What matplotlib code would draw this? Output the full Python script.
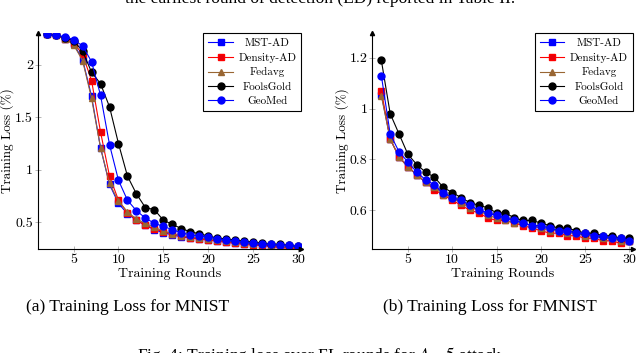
import matplotlib
matplotlib.use("Agg")
import matplotlib.pyplot as plt
from matplotlib.ticker import FixedLocator, FuncFormatter

rounds = list(range(2, 31))

# MNIST
mnist_mst = [2.29, 2.29, 2.25, 2.20, 2.05, 1.70, 1.21, 0.86, 0.68, 0.58, 0.52, 0.47, 0.43, 0.40,
             0.38, 0.36, 0.35, 0.34, 0.33, 0.32, 0.31, 0.30, 0.29, 0.29, 0.28, 0.27, 0.26, 0.26, 0.25]
mnist_density = [2.29, 2.28, 2.25, 2.21, 2.10, 1.85, 1.36, 0.94, 0.71, 0.59, 0.52, 0.47, 0.44, 0.41,
                 0.39, 0.37, 0.35, 0.34, 0.33, 0.32, 0.31, 0.30, 0.29, 0.28, 0.28, 0.27, 0.26, 0.25, 0.245]
mnist_fedavg = [2.29, 2.28, 2.25, 2.19, 2.04, 1.68, 1.21, 0.87, 0.70, 0.60, 0.53, 0.49, 0.45, 0.42,
                0.39, 0.37, 0.36, 0.35, 0.34, 0.33, 0.32, 0.31, 0.30, 0.29, 0.29, 0.28, 0.27, 0.26, 0.26]
mnist_fools = [2.29, 2.28, 2.26, 2.23, 2.13, 1.93, 1.82, 1.60, 1.25, 0.94, 0.77, 0.64, 0.62, 0.52,
               0.48, 0.44, 0.41, 0.39, 0.37, 0.35, 0.34, 0.33, 0.32, 0.31, 0.30, 0.29, 0.29, 0.28, 0.27]
mnist_geomed = [2.29, 2.28, 2.27, 2.24, 2.18, 2.03, 1.71, 1.24, 0.90, 0.71, 0.61, 0.54, 0.49, 0.46,
                0.43, 0.40, 0.38, 0.37, 0.36, 0.34, 0.33, 0.32, 0.31, 0.30, 0.29, 0.29, 0.28, 0.28, 0.27]

# FMNIST
fm_mst = [1.055, 0.88, 0.81, 0.77, 0.74, 0.71, 0.69, 0.67, 0.65, 0.63, 0.62, 0.60, 0.59, 0.58,
          0.57, 0.56, 0.55, 0.54, 0.53, 0.53, 0.52, 0.52, 0.51, 0.50, 0.50, 0.49, 0.49, 0.48, 0.48]
fm_density = [1.07, 0.88, 0.81, 0.77, 0.74, 0.71, 0.68, 0.66, 0.64, 0.62, 0.60, 0.59, 0.57, 0.56,
              0.56, 0.55, 0.54, 0.53, 0.52, 0.51, 0.51, 0.50, 0.50, 0.49, 0.49, 0.48, 0.48, 0.47, 0.48]
fm_fedavg = [1.05, 0.88, 0.81, 0.77, 0.74, 0.71, 0.69, 0.66, 0.65, 0.63, 0.61, 0.60, 0.58, 0.57,
             0.56, 0.55, 0.55, 0.54, 0.53, 0.52, 0.52, 0.51, 0.51, 0.50, 0.50, 0.49, 0.49, 0.48, 0.48]
fm_fools = [1.19, 0.98, 0.90, 0.82, 0.78, 0.75, 0.73, 0.69, 0.67, 0.65, 0.63, 0.62, 0.61, 0.59,
            0.59, 0.57, 0.56, 0.56, 0.55, 0.54, 0.53, 0.53, 0.52, 0.51, 0.51, 0.50, 0.50, 0.49, 0.49]
fm_geomed = [1.13, 0.90, 0.83, 0.79, 0.75, 0.72, 0.70, 0.67, 0.65, 0.64, 0.62, 0.60, 0.59, 0.58,
             0.57, 0.56, 0.55, 0.54, 0.54, 0.53, 0.52, 0.52, 0.51, 0.51, 0.50, 0.50, 0.49, 0.49, 0.48]

labels = ["MST-AD", "Density-AD", "Fedavg", "FoolsGold", "GeoMed"]
mnist_ticks = [0.5, 1, 1.5, 2]
fm_ticks = [0.6, 0.8, 1.0, 1.2]
x_ticks = [5, 10, 15, 20, 25, 30]

plt.rcParams['font.family'] = ['cmr10', 'DejaVu Serif']
plt.rcParams['axes.formatter.use_mathtext'] = True
plt.rcParams['mathtext.fontset'] = 'stix'

styles = [
    dict(color=(0, 0, 1), marker='s', ms=5.0, mfc=(0, 0, 1), mec=(0, 0, 1)),
    dict(color=(1, 0, 0), marker='s', ms=5.0, mfc=(0.9, 0, 0.05), mec=(1, 0, 0)),
    dict(color=(0.6, 0.4, 0.2), marker='^', ms=4.0, mfc=(0.6, 0.4, 0.2), mec=(0.6, 0.4, 0.2)),
    dict(color=(0, 0, 0), marker='o', ms=5.0, mfc=(0, 0, 0), mec=(0, 0, 0)),
    dict(color=(0, 0, 1), marker='o', ms=5.0, mfc=(0, 0, 1), mec=(0, 0, 1)),
]

fig = plt.figure(figsize=(6.4, 3.53), dpi=100)
ax1 = fig.add_axes([0.059, 0.2955, 0.412, 0.610])
ax2 = fig.add_axes([0.582, 0.2955, 0.407, 0.610])

def fmt(v, pos):
    return ("%g" % v)

legends = []

def setup(ax, series, ylim, yticks):
    for s, lab, st in zip(series, labels, styles):
        ax.plot(rounds, s, lw=0.8, label=lab, **st)
    ax.set_xlim(1.0, 30.4)
    ax.set_ylim(*ylim)
    ax.xaxis.set_major_locator(FixedLocator(x_ticks))
    ax.yaxis.set_major_locator(FixedLocator(yticks))
    ax.yaxis.set_major_formatter(FuncFormatter(fmt))
    ax.xaxis.set_major_formatter(FuncFormatter(fmt))
    for sp in ['top', 'right']:
        ax.spines[sp].set_visible(False)
    for sp in ['left', 'bottom']:
        ax.spines[sp].set_color('black')
        ax.spines[sp].set_linewidth(0.8)
    ax.tick_params(direction='inout', length=4, width=0.5, color='0.6',
                   labelsize=10, pad=1.5)
    ax.plot(1, 0, '>', transform=ax.transAxes, clip_on=False, color='black', ms=3)
    ax.plot(0, 1, '^', transform=ax.transAxes, clip_on=False, color='black', ms=3)
    ax.set_xlabel("Training Rounds", fontsize=10, labelpad=1)
    ax.set_ylabel("Training Loss (%)", fontsize=9.5)
    ax.yaxis.set_label_coords(-0.092, 0.5)
    leg = ax.legend(loc='upper right', fontsize=8, frameon=True, fancybox=False,
                    edgecolor='black', framealpha=1, borderpad=0.45, labelspacing=0.42,
                    handlelength=2.2, handletextpad=0.5, borderaxespad=0.0,
                    bbox_to_anchor=(1.0, 1.0))
    leg.get_frame().set_linewidth(0.8)
    legends.append(leg)

setup(ax1, [mnist_mst, mnist_density, mnist_fedavg, mnist_fools, mnist_geomed],
      (0.248, 2.30), mnist_ticks)
setup(ax2, [fm_mst, fm_density, fm_fedavg, fm_fools, fm_geomed],
      (0.449, 1.296), fm_ticks)

cap = dict(family=['Liberation Serif'], fontsize=12.5, ha='center', va='center')
fig.text(0.2, 1 - 307 / 353, "(a) Training Loss for MNIST", **cap)
fig.text(0.765, 1 - 307 / 353, "(b) Training Loss for FMNIST", **cap)
fig.text(0.5, 1 + 1 / 353, "the earliest round of detection (ED) reported in Table II.", **cap)
fig.text(0.5, 1 - 355 / 353, "Fig. 4: Training loss over FL rounds for $A=5$ attack", **cap)

# center legend labels within the label column
fig.canvas.draw()
renderer = fig.canvas.get_renderer()
for leg in legends:
    texts = leg.get_texts()
    widths = [t.get_window_extent(renderer).width for t in texts]
    mw = max(widths)
    for t, w in zip(texts, widths):
        t.set_position(((mw - w) / 2.0, 0))

fig.savefig("out.png", dpi=100)
